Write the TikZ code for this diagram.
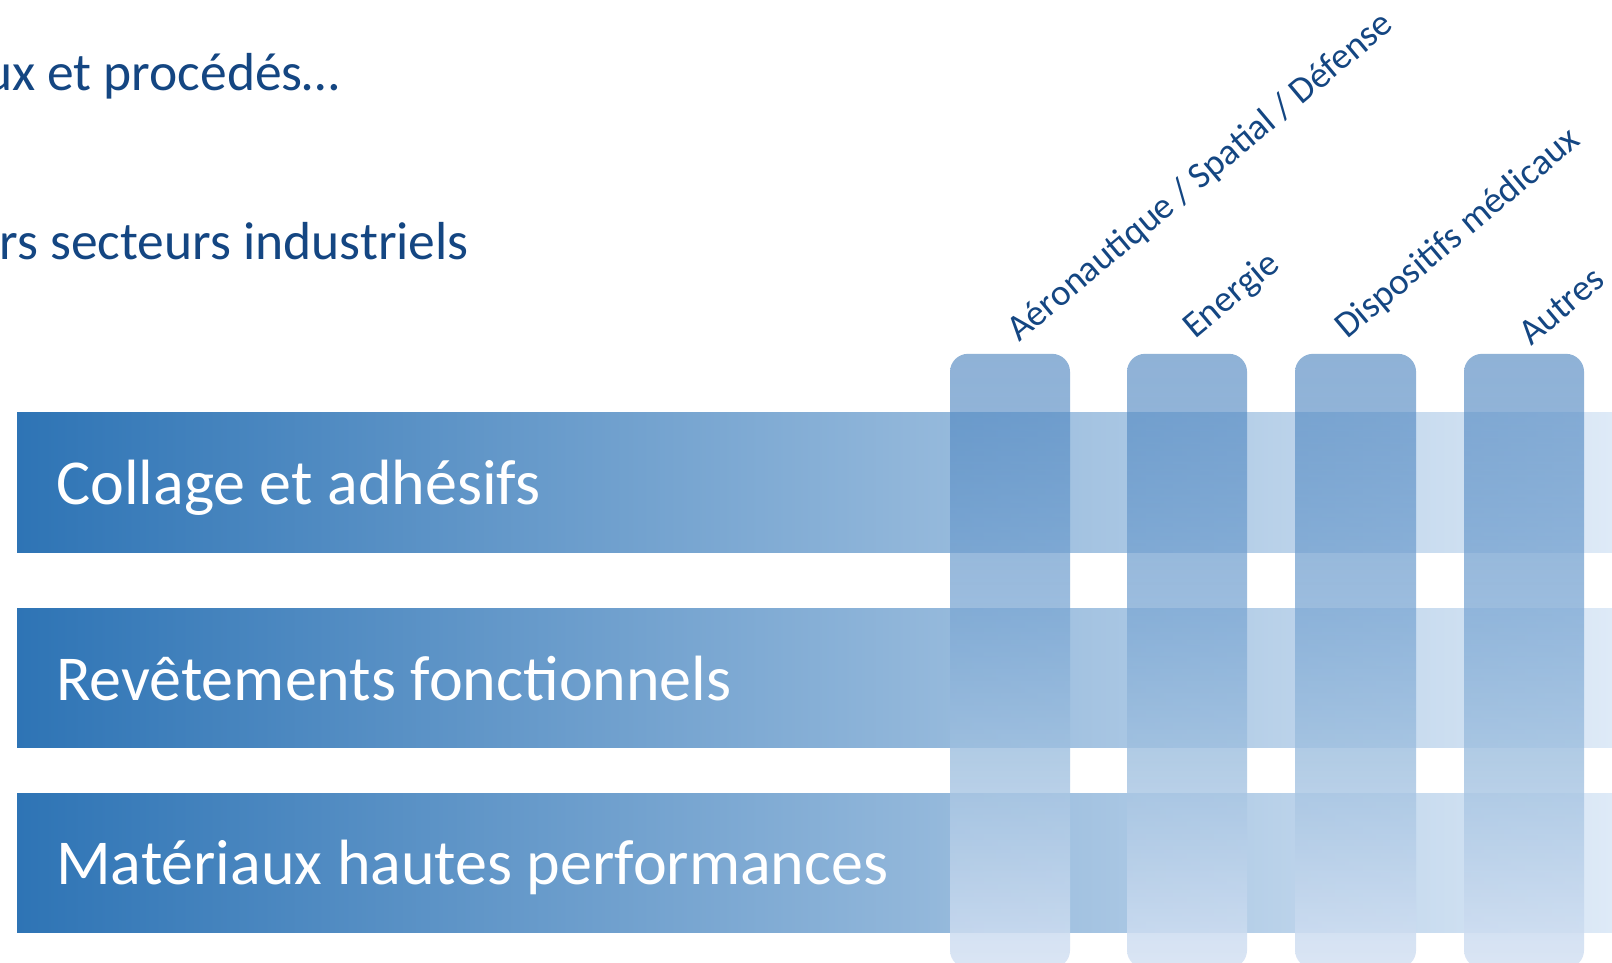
\documentclass[tikz,border=0pt]{standalone}
\usepackage{fontspec}
\setmainfont{Carlito}
\usetikzlibrary{fadings}
\definecolor{bardark}{RGB}{46,116,181}
\definecolor{barlight}{RGB}{222,234,247}
\definecolor{titleblue}{RGB}{20,70,130}
\definecolor{cA}{RGB}{75,131,190}
\definecolor{cB}{RGB}{80,135,193}
\definecolor{cC}{RGB}{122,166,211}
\definecolor{cD}{RGB}{161,193,224}
\definecolor{cE}{RGB}{209,223,242}
\definecolor{cF}{RGB}{213,226,244}
\pgfdeclareverticalshading{colshade}{100bp}{color(0bp)=(cF); color(25bp)=(cF); color(26.5bp)=(cE); color(41.9bp)=(cD); color(54.9bp)=(cC); color(71.2bp)=(cB); color(75bp)=(cA); color(100bp)=(cA)}
\pgfdeclareverticalshading{colalphash}{100bp}{color(0bp)=(pgftransparent!15); color(25bp)=(pgftransparent!15); color(26.5bp)=(pgftransparent!15); color(41.9bp)=(pgftransparent!19); color(54.9bp)=(pgftransparent!25); color(71.2bp)=(pgftransparent!37); color(75bp)=(pgftransparent!38); color(100bp)=(pgftransparent!38)}
\pgfdeclarefading{colfade}{\pgfuseshading{colalphash}}
\begin{document}
\begin{tikzpicture}[x=1pt,y=-1pt,
  titletext/.style={inner sep=0pt, text=titleblue, font=\fontsize{53.5}{60}\selectfont},
  bartext/.style={inner sep=0pt, text=white, font=\fontsize{64}{72}\selectfont},
  lbl/.style={inner sep=0pt, text=titleblue, font=\fontsize{37}{42}\selectfont, rotate=40, anchor=base west},
  barfill/.style={left color=bardark, right color=barlight},
  colfill/.style={shading=colshade, path fading=colfade, rounded corners=18pt}]
\useasboundingbox (0,0) rectangle (1612,963);
\fill[white] (0,0) rectangle (1612,963);
% titles
\node[titletext, anchor=base east] (h1) at (340,90.5) {ux et procédés…};
\node[titletext, anchor=base east] (h2) at (469,259) {rs secteurs industriels};
% bars
\shade[barfill] (17,412) rectangle (1612,552);
\shade[barfill] (17,608) rectangle (1612,747);
\shade[barfill] (17,793) rectangle (1612,932);
\node[bartext, anchor=base west] (b1) at (56,504) {Collage et adhésifs};
\node[bartext, anchor=base west] (b2) at (56,700) {Revêtements fonctionnels};
\node[bartext, anchor=base west] (b3) at (56,884) {Matériaux hautes performances};
% columns
\shade[colfill] (950,353) rectangle (1070,968);
\shade[colfill] (1127,353) rectangle (1247,968);
\shade[colfill] (1295,353) rectangle (1416,968);
\shade[colfill] (1464,353) rectangle (1584,968);
% labels
\node[lbl] (l1) at (1019,343) {Aéronautique / Spatial / Défense};
\node[lbl] (l2) at (1195,340) {Energie};
\node[lbl] (l3) at (1347,340) {Dispositifs médicaux};
\node[lbl] (l4) at (1531,347) {Autres};
\end{tikzpicture}
\end{document}
